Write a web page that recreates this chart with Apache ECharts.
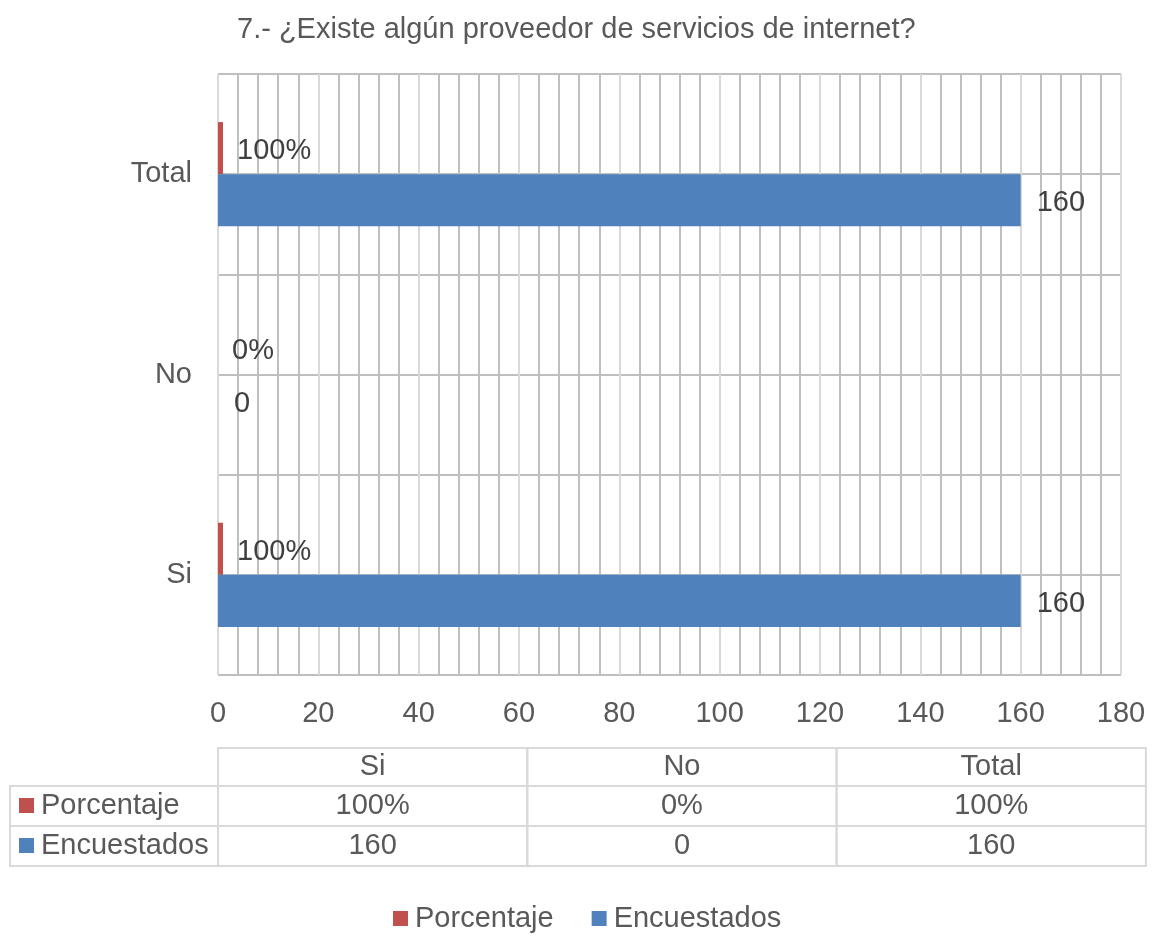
<!DOCTYPE html>
<html>
<head>
<meta charset="utf-8">
<script src="https://cdn.jsdelivr.net/npm/echarts@6/dist/echarts.min.js"></script>
<style>
html,body{margin:0;padding:0;background:#fff;}
#chart{width:1153px;height:938px;}
</style>
</head>
<body>
<div id="chart"></div>
<script>
const title = '7.- ¿Existe algún proveedor de servicios de internet?';
const categories = ['Si', 'No', 'Total'];
const seriesNames = ['Porcentaje', 'Encuestados'];
const porcentaje = [1, 0, 1];
const encuestados = [160, 0, 160];
const xTicks = { min: 0, max: 180, interval: 20 };

const RED = '#C0504D', BLUE = '#4F81BD', TXT = '#595959', LBL = '#404040';
const FONT = 'Liberation Sans, Arial, sans-serif';
const FS = 29;

const pct = v => Math.round(v * 100) + '%';

// data table (layout constants)
const tbl = { left: 10, x0: 218, colW: 309.3, top: 748, rowH: [38, 40, 40] };
const graphics = [];
const border = '#D9D9D9';
let y = tbl.top;
const rows = [
  { name: null, vals: categories },
  { name: seriesNames[0], color: RED, vals: porcentaje.map(pct) },
  { name: seriesNames[1], color: BLUE, vals: encuestados.map(String) }
];
rows.forEach((r, ri) => {
  const h = tbl.rowH[ri];
  if (r.name) {
    graphics.push({ type: 'rect', shape: { x: tbl.left, y: y, width: tbl.x0 - tbl.left, height: h },
      style: { fill: 'none', stroke: border, lineWidth: 2 } });
    graphics.push({ type: 'rect', shape: { x: tbl.left + 9, y: y + h / 2 - 8, width: 15, height: 15 },
      style: { fill: r.color } });
    graphics.push({ type: 'text', x: tbl.left + 31, y: y + h / 2,
      style: { text: r.name, fill: TXT, font: FS + 'px ' + FONT, textVerticalAlign: 'middle', verticalAlign: 'middle' } });
  }
  r.vals.forEach((v, ci) => {
    const x = tbl.x0 + ci * tbl.colW;
    graphics.push({ type: 'rect', shape: { x: x, y: y, width: tbl.colW, height: h },
      style: { fill: 'none', stroke: border, lineWidth: 2 } });
    graphics.push({ type: 'text', x: x + tbl.colW / 2, y: y + h / 2,
      style: { text: v, fill: TXT, font: FS + 'px ' + FONT, align: 'center', textAlign: 'center', verticalAlign: 'middle', textVerticalAlign: 'middle' } });
  });
  y += h;
});

const chart = echarts.init(document.getElementById('chart'), null, { renderer: 'canvas' });
chart.setOption({
  backgroundColor: '#fff',
  animation: false,
  textStyle: { fontFamily: FONT },
  title: {
    text: title, left: 232, top: 10,
    textStyle: { fontSize: FS, fontWeight: 'normal', color: TXT, fontFamily: FONT }
  },
  legend: {
    data: seriesNames, bottom: 0, left: 388, icon: 'rect', itemWidth: 15, itemHeight: 15, itemGap: 38,
    textStyle: { fontSize: FS, color: TXT, fontFamily: FONT, padding: [0, 0, 0, 2] }
  },
  grid: { left: 218, right: 32, top: 74, bottom: 263, containLabel: false },
  xAxis: {
    type: 'value', min: xTicks.min, max: xTicks.max, interval: xTicks.interval,
    axisLine: { show: false }, axisTick: { show: false },
    axisLabel: { fontSize: FS, color: TXT, margin: 24, fontFamily: FONT },
    splitLine: { show: true, lineStyle: { color: '#D9D9D9', width: 2 } },
    minorTick: { show: false, splitNumber: 5 },
    minorSplitLine: { show: true, lineStyle: { color: '#BFBFBF', width: 2 } }
  },
  yAxis: [{
    type: 'category', data: categories,
    axisLine: { show: false }, axisTick: { show: false },
    axisLabel: { fontSize: FS, color: TXT, margin: 26, fontFamily: FONT },
    splitLine: { show: false }
  }, {
    type: 'value', min: 0, max: 6, interval: 1, position: 'left',
    axisLine: { show: false }, axisTick: { show: false }, axisLabel: { show: false },
    splitLine: { show: true, lineStyle: { color: '#BFBFBF', width: 2 } }
  }],
  series: [{
    name: seriesNames[0], type: 'bar', data: porcentaje, yAxisIndex: 0,
    itemStyle: { color: RED }, barCategoryGap: '48%', barGap: '0%',
    label: { show: true, position: 'right', distance: 14, offset: [0, 3], fontSize: FS, color: LBL, fontFamily: FONT,
      formatter: p => pct(p.value) }
  }, {
    name: seriesNames[1], type: 'bar', data: encuestados, yAxisIndex: 0,
    itemStyle: { color: BLUE }, barCategoryGap: '48%', barGap: '0%',
    label: { show: true, position: 'right', distance: 16, offset: [0, 3], fontSize: FS, color: LBL, fontFamily: FONT }
  }],
  graphic: graphics
});
</script>
</body>
</html>
